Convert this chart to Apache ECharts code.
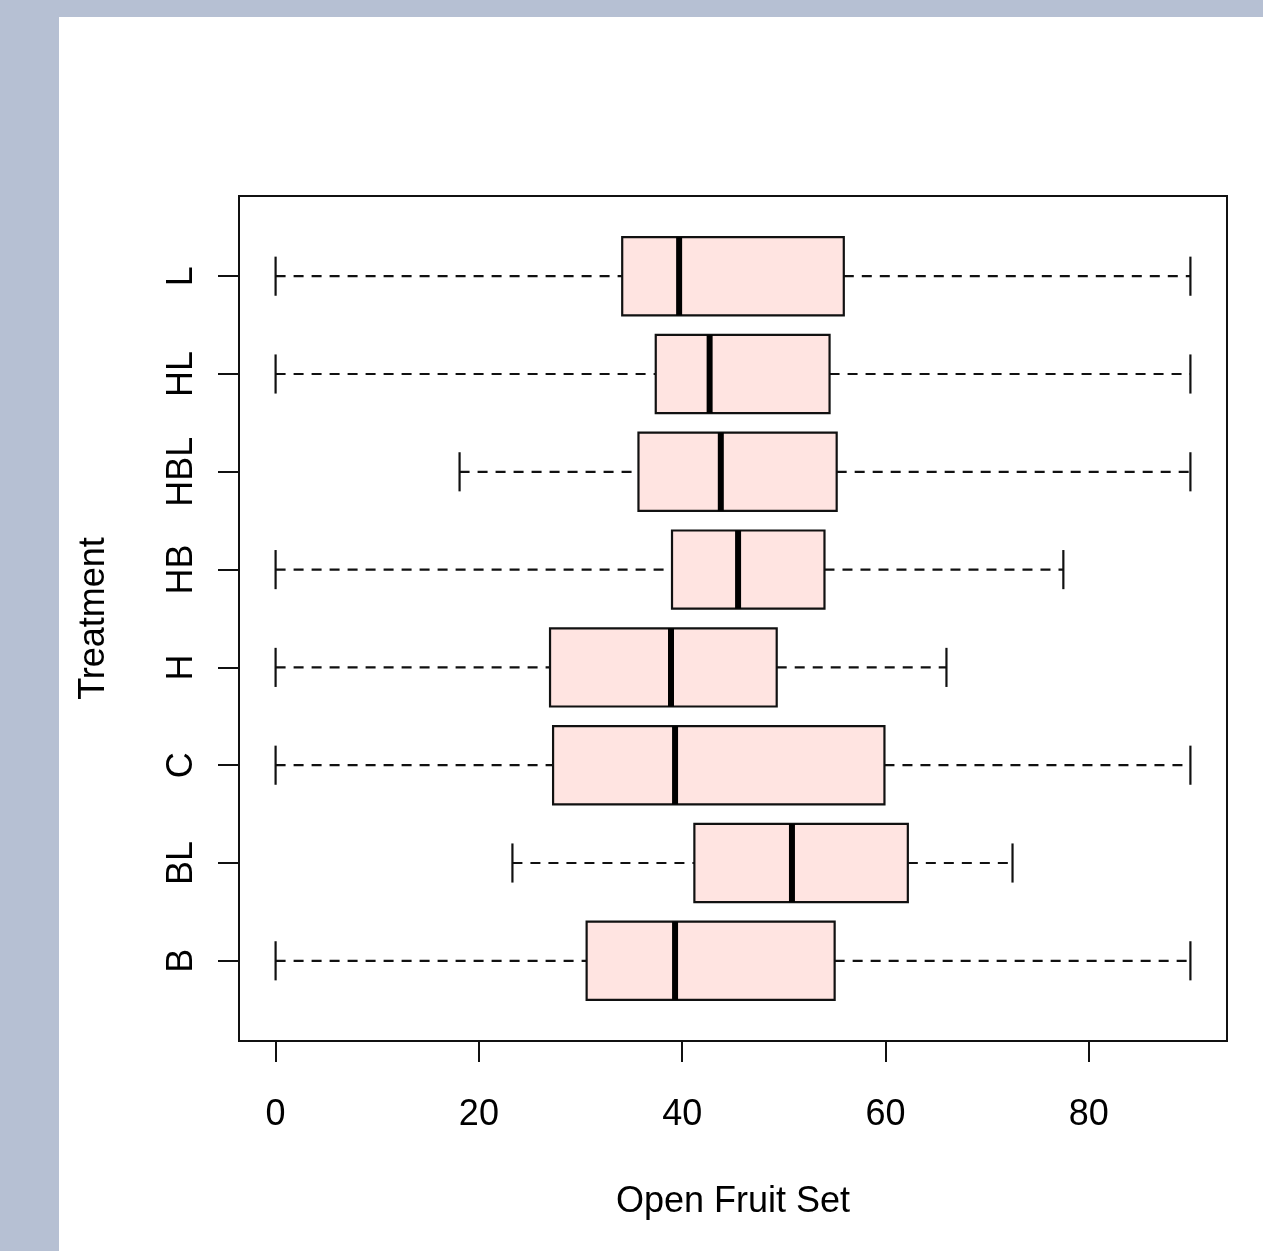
<!DOCTYPE html>
<html>
<head>
<meta charset="utf-8">
<script src="https://cdn.jsdelivr.net/npm/echarts@6/dist/echarts.min.js"></script>
<style>
html, body { margin: 0; padding: 0; background: #b6c0d3; width: 1263px; height: 1251px; overflow: hidden; }
#c { position: absolute; left: 59px; top: 17px; width: 1204px; height: 1234px; background: #ffffff; }
</style>
</head>
<body>
<div id="c"></div>
<script>
// ---- data ----
const categories  = ['B', 'BL', 'C', 'H', 'HB', 'HBL', 'HL', 'L'];
const whiskerLow  = [0,    23.3, 0,    0,    0,    18.1, 0,    0];
const q1          = [30.6, 41.2, 27.3, 27.0, 39.0, 35.7, 37.4, 34.1];
const median      = [39.3, 50.8, 39.3, 38.9, 45.5, 43.8, 42.7, 39.7];
const q3          = [55.0, 62.2, 59.9, 49.3, 54.0, 55.2, 54.5, 55.9];
const whiskerHigh = [90,   72.5, 90,   66.0, 77.5, 90,   90,   90];
const xTicks = [0, 20, 40, 60, 80];
const yTicks = [1, 2, 3, 4, 5, 6, 7, 8];

const seriesData = categories.map((c, i) => [i + 1, whiskerLow[i], q1[i], median[i], q3[i], whiskerHigh[i]]);

const chart = echarts.init(document.getElementById('c'));
const font = '"Liberation Sans", Arial, sans-serif';

function renderItem(params, api) {
  const y = api.value(0);
  const lo = api.value(1), a = api.value(2), m = api.value(3), b = api.value(4), hi = api.value(5);
  const pLo = api.coord([lo, y]);
  const pA = api.coord([a, y]);
  const pM = api.coord([m, y]);
  const pB = api.coord([b, y]);
  const pHi = api.coord([hi, y]);
  const boxH = api.size([0, 0.8])[1];
  const capH = api.size([0, 0.4])[1];
  const cy = pA[1];
  const dash = { stroke: '#111', lineWidth: 2.2, lineDash: [10, 8] };
  const solid = { stroke: '#111', lineWidth: 2.2 };
  return {
    type: 'group',
    children: [
      { type: 'line', shape: { x1: pLo[0], y1: cy, x2: pA[0], y2: cy }, style: dash },
      { type: 'line', shape: { x1: pB[0], y1: cy, x2: pHi[0], y2: cy }, style: dash },
      { type: 'line', shape: { x1: pLo[0], y1: cy - capH / 2, x2: pLo[0], y2: cy + capH / 2 }, style: solid },
      { type: 'line', shape: { x1: pHi[0], y1: cy - capH / 2, x2: pHi[0], y2: cy + capH / 2 }, style: solid },
      { type: 'rect', shape: { x: pA[0], y: cy - boxH / 2, width: pB[0] - pA[0], height: boxH },
        style: { fill: '#ffe4e1', stroke: '#111', lineWidth: 2.2 } },
      { type: 'line', shape: { x1: pM[0], y1: cy - boxH / 2, x2: pM[0], y2: cy + boxH / 2 },
        style: { stroke: '#000', lineWidth: 6 } }
    ]
  };
}

chart.setOption({
  animation: false,
  backgroundColor: '#ffffff',
  grid: {
    left: 180, top: 179, width: 988, height: 845,
    show: true, borderColor: '#111', borderWidth: 2, backgroundColor: 'transparent'
  },
  xAxis: {
    type: 'value', min: -3.6, max: 93.6,
    name: 'Open Fruit Set', nameLocation: 'middle', nameGap: 143,
    nameTextStyle: { fontSize: 36, color: '#000', fontFamily: font },
    axisLine: { show: false, onZero: false },
    axisTick: { show: true, customValues: xTicks, length: 21, lineStyle: { color: '#111', width: 2 } },
    axisLabel: { show: true, customValues: xTicks, fontSize: 36, color: '#000', fontFamily: font, margin: 56 },
    splitLine: { show: false }
  },
  yAxis: {
    type: 'value', min: 0.18, max: 8.82,
    name: 'Treatment', nameLocation: 'middle', nameGap: 127, nameRotate: 90,
    nameTextStyle: { fontSize: 36, color: '#000', fontFamily: font },
    axisLine: { show: false, onZero: false },
    axisTick: { show: true, customValues: yTicks, length: 21, lineStyle: { color: '#111', width: 2 } },
    axisLabel: {
      show: true, customValues: yTicks, rotate: 90, fontSize: 36, color: '#000', fontFamily: font, margin: 39,
      formatter: v => categories[Math.round(v) - 1]
    },
    splitLine: { show: false }
  },
  series: [{
    type: 'custom',
    renderItem: renderItem,
    encode: { y: 0, x: [1, 2, 3, 4, 5] },
    data: seriesData,
    clip: false
  }]
});
</script>
</body>
</html>
